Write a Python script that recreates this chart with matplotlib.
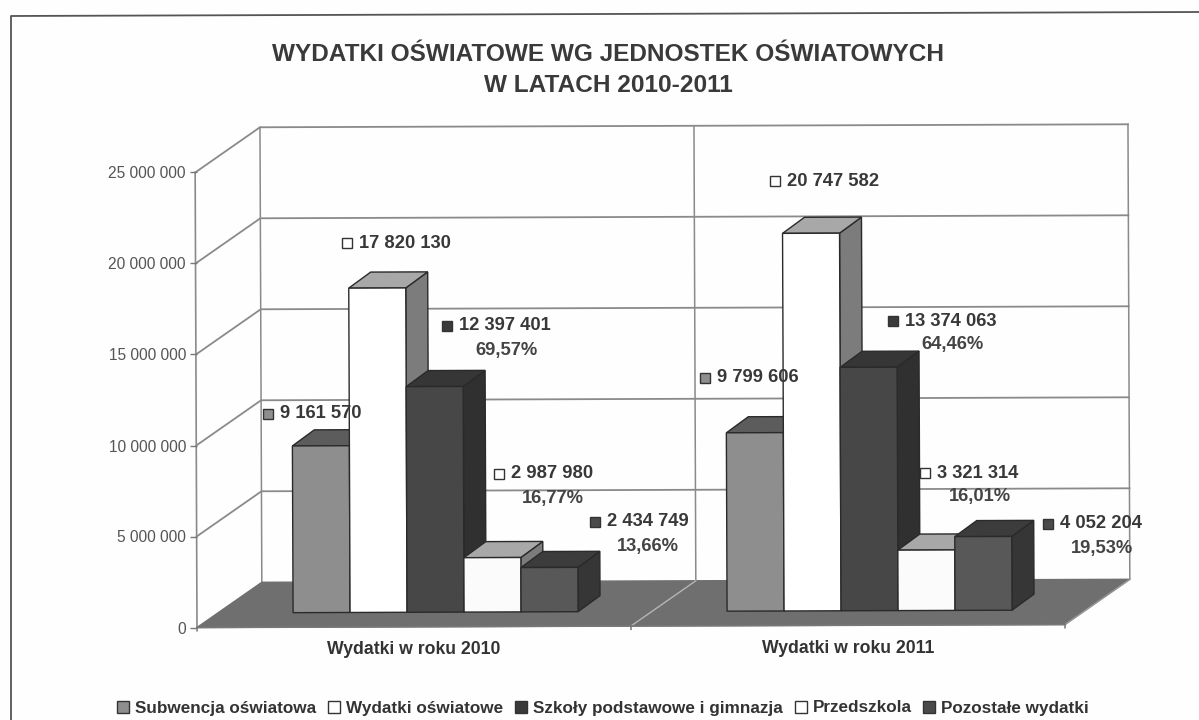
import matplotlib
matplotlib.use("Agg")
import matplotlib.pyplot as plt
from matplotlib.patches import Polygon, Rectangle
from matplotlib.transforms import Affine2D

plt.rcParams['font.family'] = ['Liberation Sans', 'DejaVu Sans']

title = "WYDATKI OŚWIATOWE WG JEDNOSTEK OŚWIATOWYCH\nW LATACH 2010-2011"
years = ["Wydatki w roku 2010", "Wydatki w roku 2011"]
series = ["Subwencja oświatowa", "Wydatki oświatowe", "Szkoły podstawowe i gimnazja",
          "Przedszkola", "Pozostałe wydatki"]
values_2010 = [9161570, 17820130, 12397401, 2987980, 2434749]
values_2011 = [9799606, 20747582, 13374063, 3321314, 4052204]
shares_2010 = [None, None, "69,57%", "16,77%", "13,66%"]
shares_2011 = [None, None, "64,46%", "16,01%", "19,53%"]
yticks = [0, 5000000, 10000000, 15000000, 20000000, 25000000]

# front, top, side shades of each series
front_col = ['#8e8e8e', '#ffffff', '#474747', '#fbfbfb', '#585858']
top_col = ['#5c5c5c', '#a8a8a8', '#363636', '#a8a8a8', '#3c3c3c']
side_col = ['#6a6a6a', '#7c7c7c', '#303030', '#7c7c7c', '#363636']
marker_col = ['#8e8e8e', '#ffffff', '#3a3a3a', '#ffffff', '#4a4a4a']

# label anchor in image pixels (marker x, first line y, second line centre x)
label_pos_2010 = [(268, 414, None), (347, 243, None), (447, 326, 506),
                  (499, 474, 553), (595, 522, 648)]
label_pos_2011 = [(705, 378, None), (775, 181, None), (893, 321, 952),
                  (925, 473, 980), (1048, 524, 1102)]

fig = plt.figure(figsize=(11.99, 7.2), dpi=100)
fig.patch.set_facecolor('#fefefe')
ax = fig.add_axes([197 / 1199, 1 - 627.5 / 720, 868 / 1199, 455 / 720])
ax.set_xlim(0, 2)
ax.set_ylim(0, 25000000)
ax.patch.set_alpha(0)

px_x = 868 / 2.0
px_y = 455 / 25000000.0
depth_x = 65 / px_x
depth_y = 45 / px_y
bar_dx = 22 / px_x
bar_dy = 16 / px_y
bar_w = 57 / px_x
base = 14.5 / px_y

# the scan is a bit rotated
tilt = Affine2D.from_values(1, 82000, -1.7e-10, 1, 0, 0) + ax.transData
pix = Affine2D().scale(1, -1).translate(0, 720)
grey = '#8a8a8a'


def poly(points, color, edge='#2a2a2a', lw=1.0, z=3):
    ax.add_patch(Polygon(points, closed=True, facecolor=color, edgecolor=edge,
                         linewidth=lw, transform=tilt, zorder=z, clip_on=False))


def wall_line(xs, ys, color=grey, lw=1.3, z=1):
    ax.plot(xs, ys, color=color, lw=lw, transform=tilt, zorder=z, clip_on=False)


# floor
poly([(0, 0), (depth_x, depth_y), (2 + depth_x, depth_y), (2, 0)], '#6f6f6f',
     edge='#6f6f6f', z=2)
wall_line([1, 1 + depth_x], [0, depth_y], color='#b5b5b5', lw=1.0, z=2)

# walls and grid
for t in yticks[1:]:
    wall_line([0, depth_x, 2 + depth_x], [t, t + depth_y, t + depth_y])
for xw in [depth_x, 1 + depth_x, 2 + depth_x]:
    wall_line([xw, xw], [depth_y, 25000000 + depth_y], lw=1.1)
wall_line([0, 0], [0, 25000000], lw=1.2)
wall_line([2 + depth_x, 2], [depth_y, 0], color='#999999', lw=1.0, z=2)
wall_line([0, 2], [0, 0], color='#777777', lw=1.2, z=2)
for xt in [0, 1, 2]:
    wall_line([xt, xt], [0, -180000], color='#777777', lw=1.1, z=2)

# bars
for g, vals in enumerate([values_2010, values_2011]):
    for i, v in enumerate(vals):
        x0 = g + 0.2215 + i * bar_w
        x1 = x0 + bar_w
        top = base + v
        z = 3 + i * 0.1
        poly([(x1, base), (x1 + bar_dx, base + bar_dy),
              (x1 + bar_dx, top + bar_dy), (x1, top)], side_col[i], z=z)
        poly([(x0, top), (x0 + bar_dx, top + bar_dy),
              (x1 + bar_dx, top + bar_dy), (x1, top)], top_col[i], z=z)
        poly([(x0, base), (x0, top), (x1, top), (x1, base)], front_col[i], z=z)

# data labels
for vals, shares, places in [(values_2010, shares_2010, label_pos_2010),
                             (values_2011, shares_2011, label_pos_2011)]:
    for i, v in enumerate(vals):
        mx, my, sx = places[i]
        ax.plot([mx], [my], marker='s', ms=7.5, mfc=marker_col[i], mec='#333333',
                mew=1.0, transform=pix, zorder=6, clip_on=False)
        txt = f"{v:,}".replace(",", " ")
        ax.text(mx + 12, my, txt, transform=pix, ha='left', va='center',
                fontsize=13.2, fontweight='bold', color='#383838', zorder=7)
        if shares[i]:
            ax.text(sx, my + 24, shares[i], transform=pix, ha='center', va='center',
                    fontsize=13.2, fontweight='bold', color='#444444', zorder=7)

# axes
for s in ax.spines.values():
    s.set_visible(False)
ax.set_xticks([])
ax.set_yticks(yticks)
ax.set_yticklabels([f"{t:,}".replace(",", " ") if t else "0" for t in yticks],
                   fontsize=11.2, color='#555555')
ax.tick_params(axis='y', length=5, width=1.0, color='#777777', pad=3)
for g, name in enumerate(years):
    ax.annotate(name, (g + 0.5, 0), xycoords=tilt, xytext=(0, -16.5),
                textcoords='offset points', ha='center', va='center',
                fontsize=12.7, fontweight='bold', color='#333333')

fig.text(608 / 1199, 1 - 70 / 720, title, ha='center', va='center', fontsize=17.6,
         fontweight='bold', color='#3a3a3a', linespacing=1.45)

# legend
handles = [Rectangle((0, 0), 1, 1, facecolor=marker_col[i], edgecolor='#333333', lw=1.0)
           for i in range(5)]
fig.legend(handles, series, ncol=5, loc='center', bbox_to_anchor=(603 / 1199, 1 - 708 / 720),
           frameon=False, handlelength=0.7, handleheight=0.7, handletextpad=0.35,
           columnspacing=0.7, prop={'size': 12.3, 'weight': 'bold'}, labelcolor='#333333')

# outer frame of the scanned chart
fig.add_artist(plt.Line2D([11 / 1199, 11 / 1199, 1199 / 1199],
                          [0, 1 - 16 / 720, 1 - 12 / 720], color='#555555', lw=1.3))

fig.savefig("out.png", dpi=100)
